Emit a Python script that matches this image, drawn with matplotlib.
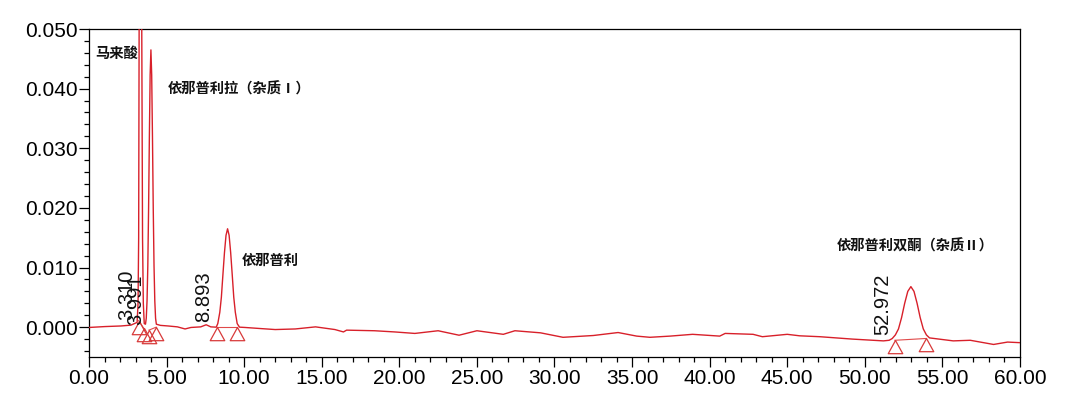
import numpy as np
import matplotlib
matplotlib.use("Agg")
from matplotlib import pyplot as plt
from matplotlib.path import Path
from matplotlib.ticker import MultipleLocator, FormatStrFormatter

plt.rcParams['font.family'] = ['Liberation Sans', 'Noto Sans CJK SC', 'DejaVu Sans']

# chromatogram trace (min, AU)
trace_time = [
    0.0, 1.03, 2.06, 2.7, 3.10, 3.16, 3.20, 3.23, 3.31, 3.40, 3.45, 3.50, 3.56,
    3.64, 3.69, 3.74, 3.79, 3.84, 3.89, 3.94, 3.99, 4.04, 4.09, 4.14, 4.19, 4.24,
    4.29, 4.34, 4.6, 5.1, 5.7, 6.19, 6.57, 7.2, 7.55, 7.85, 8.2,
    8.3, 8.43, 8.53, 8.63, 8.73, 8.83, 8.93, 9.03, 9.13, 9.23, 9.33, 9.43, 9.55,
    9.7, 10.05, 11.15, 12.0, 13.3, 14.6, 15.85, 16.4, 16.6, 18.4, 19.7, 21.0,
    22.5, 23.85, 25.0, 26.7, 27.45, 29.1, 30.55, 32.5, 34.1, 35.3, 36.15, 37.45,
    38.9, 40.65, 41.0, 42.8, 43.4, 45.0, 45.8, 47.1, 49.2, 51.2, 51.57,
    51.77, 51.97, 52.17, 52.37, 52.57, 52.77, 52.97, 53.17, 53.37, 53.57, 53.77,
    53.97, 54.17, 55.7, 56.8, 58.3, 59.2, 60.0,
]
trace_abs = [
    -0.00005, 0.0001, 0.0002, 0.00034, 0.0008, 0.004, 0.015, 0.05, 0.25, 0.05,
    0.015, 0.004, 0.0006,
    0.0005, 0.0015, 0.0044, 0.0103, 0.0199, 0.0319, 0.0423, 0.0465, 0.0423,
    0.0319, 0.0199, 0.0103, 0.0044, 0.0015, 0.0005, 0.0003, 0.0002, 0.00005,
    -0.0003, -0.00005, 0.00005, 0.0004, 0.00005, 0.0,
    0.0006, 0.0025, 0.0050, 0.0088, 0.0125, 0.0154, 0.0165, 0.0154, 0.0125,
    0.0088, 0.0050, 0.0025, 0.0006,
    0.0, -0.00005, -0.00025, -0.0004, -0.0003, 0.00005, -0.0004, -0.0008,
    -0.0005, -0.0006, -0.0008, -0.00105, -0.0006, -0.00135, -0.0006, -0.0012,
    -0.0006, -0.00095, -0.0017, -0.0014, -0.0009, -0.0015, -0.0017, -0.0015,
    -0.0012, -0.0015, -0.00105, -0.0012, -0.0016, -0.0012, -0.00145, -0.0016,
    -0.002, -0.0023, -0.0022,
    -0.0019, -0.0013, -0.0003, 0.0016, 0.0040, 0.0060, 0.0068, 0.0060, 0.0040,
    0.0016, -0.0003, -0.0013, -0.0018, -0.0023, -0.0022, -0.0029, -0.0025,
    -0.0026,
]

# integration start / end points of each peak
peak_start_t = [3.20, 3.86, 8.23, 51.94]
peak_start_v = [0.0011, -0.0005, 0.0, -0.0022]
peak_end_t = [3.53, 4.33, 9.56, 53.94]
peak_end_v = [-0.0002, 0.0, 0.0, -0.0019]

# retention time labels
rt_labels = ["3.310", "3.991", "8.893", "52.972"]
rt_label_x = [2.40, 2.98, 7.41, 51.16]
rt_label_y = [0.0012, 0.0003, 0.0008, -0.0013]

# compound names
names = ["马来酸", "依那普利拉（杂质Ⅰ）", "依那普利", "依那普利双酮（杂质Ⅱ）"]
name_x = [0.39, 5.09, 9.86, 48.2]
name_y = [0.0458, 0.0398, 0.0112, 0.0136]

fig = plt.figure(figsize=(10.75, 4.07), dpi=100)
ax = fig.add_axes([0.0828, 0.1229, 0.866, 0.8058])

line_red = '#d8202a'
ax.plot(trace_time, trace_abs, color=line_red, lw=1.0, zorder=3)

# peak baselines + triangle markers (apex sits on the point)
tri = Path([(0, 0), (-0.55, -1), (0.55, -1), (0, 0)],
           [Path.MOVETO, Path.LINETO, Path.LINETO, Path.CLOSEPOLY])
for t0, v0, t1, v1 in zip(peak_start_t, peak_start_v, peak_end_t, peak_end_v):
    ax.plot([t0, t1], [v0, v1], color='#e04a4a', lw=0.8, zorder=2)
ax.plot(peak_start_t + peak_end_t, peak_start_v + peak_end_v, ls='none',
        marker=tri, ms=19, mfc='none', mec='#d83a3a', mew=0.9, zorder=4)

for s, x, y in zip(rt_labels, rt_label_x, rt_label_y):
    ax.text(x, y, s, rotation=90, ha='center', va='bottom', fontsize=14.5,
            color='#111111', family=['Liberation Sans'], zorder=5)

for s, x, y in zip(names, name_x, name_y):
    ax.text(x, y, s, ha='left', va='center', fontsize=10.3, fontweight='bold',
            color='#111111', family=['Noto Sans CJK SC', 'DejaVu Sans'], zorder=5)

ax.set_xlim(0, 60)
ax.set_ylim(-0.005, 0.050)
ax.xaxis.set_major_locator(MultipleLocator(5))
ax.xaxis.set_minor_locator(MultipleLocator(1))
ax.yaxis.set_major_locator(MultipleLocator(0.01))
ax.yaxis.set_minor_locator(MultipleLocator(0.002))
ax.xaxis.set_major_formatter(FormatStrFormatter('%.2f'))
ax.yaxis.set_major_formatter(FormatStrFormatter('%.3f'))

for sp in ax.spines.values():
    sp.set_linewidth(0.9)
    sp.set_color('black')
ax.tick_params(which='major', direction='out', length=7.5, width=0.9,
               labelsize=15, colors='black', pad=1.5)
ax.tick_params(which='minor', direction='out', length=3.5, width=0.9)
ax.tick_params(axis='y', which='major', pad=0.5)

fig.savefig('out.png', dpi=100)
